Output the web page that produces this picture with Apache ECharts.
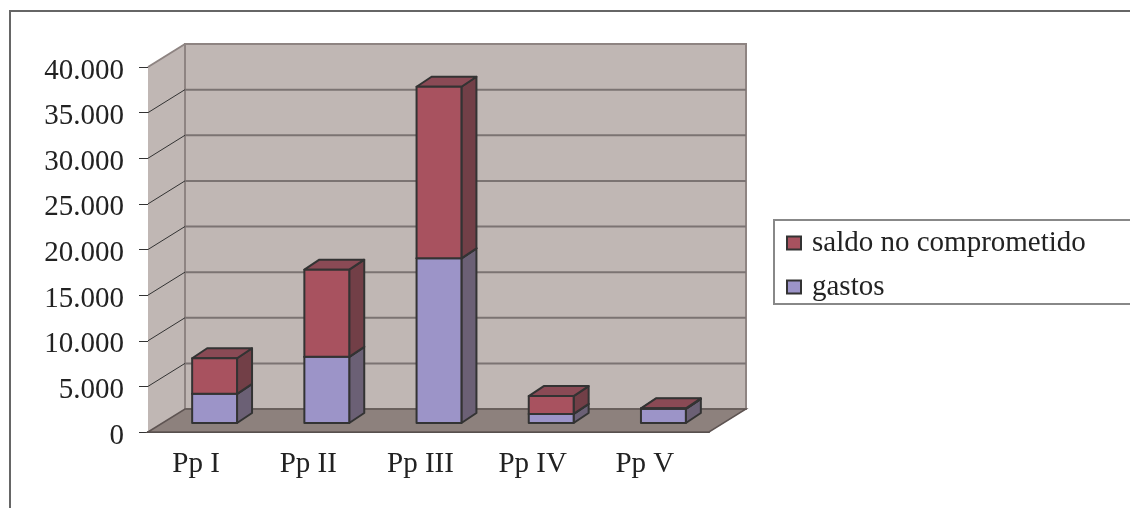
<!DOCTYPE html>
<html>
<head>
<meta charset="utf-8">
<script src="https://cdn.jsdelivr.net/npm/echarts@6/dist/echarts.min.js"></script>
<style>
html,body{margin:0;padding:0;background:#fff;}
#chart{width:1130px;height:508px;}
</style>
</head>
<body>
<div id="chart"></div>
<script>
var categories = ['Pp I', 'Pp II', 'Pp III', 'Pp IV', 'Pp V'];
var gastos = [3200, 7250, 18050, 1000, 1550];//gastos
var saldo = [3900, 9550, 18800, 1950, 60];//saldo no comprometido
var yTicks = [0, 5000, 10000, 15000, 20000, 25000, 30000, 35000, 40000];

var FONT = 'Liberation Serif';
var DX = 37, DY = -23;      // depth of the walls
var FX = 10.5, FY = -9;     // front of the bars inside the depth
var BX = 15, BY = -10;      // depth of the bars
var BAR_W = 0.4;

function fmt(v) {
    if (v === 0) return '0';
    return (v / 1000) + '.000';
}

function wallRender(params, api) {
    var cs = params.coordSys;
    var x0 = cs.x, x1 = cs.x + cs.width, yT = cs.y, yB = cs.y + cs.height;
    var kids = [];
    kids.push({type: 'polygon', shape: {points: [[x0, yT], [x0 + DX, yT + DY], [x0 + DX, yB + DY], [x0, yB]]},
        style: {fill: '#c0b7b4', stroke: null}});
    kids.push({type: 'rect', shape: {x: x0 + DX, y: yT + DY, width: x1 - x0, height: yB - yT},
        style: {fill: '#c0b7b4', stroke: '#8e8482', lineWidth: 2}});
    for (var i = 1; i < yTicks.length - 1; i++) {
        var y = api.coord([0, yTicks[i]])[1];
        kids.push({type: 'line', shape: {x1: x0 + DX, y1: y + DY, x2: x1 + DX, y2: y + DY},
            style: {stroke: '#7b7372', lineWidth: 2}});
        kids.push({type: 'line', shape: {x1: x0, y1: y, x2: x0 + DX, y2: y + DY},
            style: {stroke: '#333', lineWidth: 1}});
    }
    kids.push({type: 'line', shape: {x1: x0, y1: yT, x2: x0 + DX, y2: yT + DY},
        style: {stroke: '#8e8482', lineWidth: 2}});
    kids.push({type: 'polygon', shape: {points: [[x0, yB], [x0 + DX, yB + DY], [x1 + DX, yB + DY], [x1, yB]]},
        style: {fill: '#8d817d', stroke: '#5e5452', lineWidth: 1.5}});
    return {type: 'group', children: kids};
}

function boxRender(front, side, top) {
    return function (params, api) {
        var i = api.value(0), v = api.value(1), base = api.value(2);
        var p0 = api.coord([i, base]);
        var p1 = api.coord([i, base + v]);
        var w = api.size([1, 0])[0] * BAR_W;
        var L = p0[0] + FX - w / 2, R = L + w;
        var yb = p0[1] + FY, yt = p1[1] + FY;
        var st = {stroke: '#333', lineWidth: 2, lineJoin: 'round'};
        return {type: 'group', children: [
            {type: 'polygon', shape: {points: [[R, yb], [R + BX, yb + BY], [R + BX, yt + BY], [R, yt]]},
                style: Object.assign({fill: side}, st)},
            {type: 'polygon', shape: {points: [[L, yt], [R, yt], [R + BX, yt + BY], [L + BX, yt + BY]]},
                style: Object.assign({fill: top}, st)},
            {type: 'rect', shape: {x: L, y: yt, width: w, height: yb - yt},
                style: Object.assign({fill: front}, st)}
        ]};
    };
}

var gastosData = [], saldoData = [];
for (var i = 0; i < categories.length; i++) {
    gastosData.push([i, gastos[i], 0]);
    saldoData.push([i, saldo[i], gastos[i]]);
}

var myChart = echarts.init(document.getElementById('chart'));
var option = {
    backgroundColor: '#fff',
    animation: false,
    graphic: [{
        type: 'rect', z: -10,
        shape: {x: 10, y: 11, width: 1200, height: 600},
        style: {fill: 'none', stroke: '#666', lineWidth: 2}
    }],
    legend: {
        orient: 'vertical',
        left: 774, top: 220,
        padding: [8, 60, 2, 12],
        itemGap: 14,
        itemWidth: 14, itemHeight: 13,
        icon: 'rect',
        borderColor: '#888', borderWidth: 2,
        itemStyle: {borderColor: '#333', borderWidth: 2},
        textStyle: {fontFamily: FONT, fontSize: 29, color: '#222', lineHeight: 30, padding: [0, 0, 0, 6]},
        data: ['saldo no comprometido', 'gastos']
    },
    grid: {left: 148, top: 67, width: 561, height: 365, outerBoundsMode: 'none'},
    xAxis: {
        type: 'category',
        data: categories,
        axisLine: {lineStyle: {color: '#444', width: 2}},
        axisTick: {length: 6, lineStyle: {color: '#444', width: 1}},
        axisLabel: {fontFamily: FONT, fontSize: 29, color: '#222', margin: 18, padding: [0, 16, 0, 0]}
    },
    yAxis: {
        type: 'value',
        min: 0, max: 40000, interval: 5000,
        splitLine: {show: false},
        axisLine: {show: true, lineStyle: {color: '#333', width: 1}},
        axisTick: {show: true, length: 9, lineStyle: {color: '#333'}},
        axisLabel: {fontFamily: FONT, fontSize: 29, color: '#222', margin: 24, lineHeight: 36,
            verticalAlign: 'top', padding: [-14, 0, 0, 0], formatter: fmt}
    },
    series: [
        {
            name: 'walls', type: 'custom', renderItem: wallRender,
            data: [[0, 0]], silent: true
        },
        {
            name: 'gastos', type: 'custom',
            renderItem: boxRender('#9c94c8', '#6b6075', '#8a84b4'),
            itemStyle: {color: '#9c94c8'},
            encode: {x: 0, y: 1},
            data: gastosData
        },
        {
            name: 'saldo no comprometido', type: 'custom',
            renderItem: boxRender('#a8525f', '#723f47', '#8a4a55'),
            itemStyle: {color: '#a8525f'},
            encode: {x: 0, y: 1},
            data: saldoData
        }
    ]
};
myChart.setOption(option);
</script>
</body>
</html>
